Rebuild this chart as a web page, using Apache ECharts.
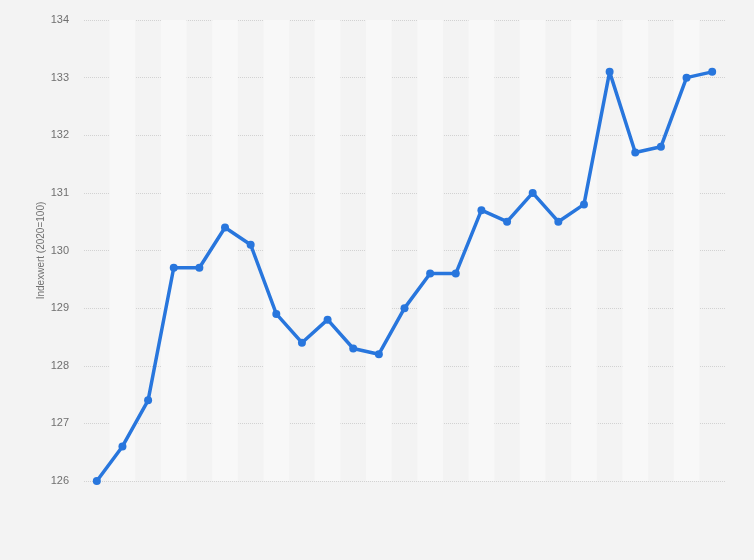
<!DOCTYPE html>
<html>
<head>
<meta charset="utf-8">
<script src="https://cdn.jsdelivr.net/npm/echarts@6/dist/echarts.min.js"></script>
<style>
    html, body { margin: 0; padding: 0; background: #f3f3f3; }
    #chart { width: 754px; height: 560px; }
</style>
</head>
<body>
<div id="chart"></div>
<script>
// Kategorien (keine Beschriftung sichtbar)
var categories = ['1', '2', '3', '4', '5', '6', '7', '8', '9', '10', '11', '12', '13',
    '14', '15', '16', '17', '18', '19', '20', '21', '22', '23', '24', '25'];
var indexValues = [126.0, 126.6, 127.4, 129.7, 129.7, 130.4, 130.1, 128.9, 128.4, 128.8,
    128.3, 128.2, 129.0, 129.6, 129.6, 130.7, 130.5, 131.0, 130.5, 130.8,
    133.1, 131.7, 131.8, 133.0, 133.1];
var yMin = 126, yMax = 134, yStep = 1;
var yName = 'Indexwert (2020=100)';

window.onload = function () {
    var myChart = echarts.init(document.getElementById('chart'));

    var option = {
        backgroundColor: '#f3f3f3',
        animation: false,
        grid: {
            left: 84,
            right: 29,
            top: 20,
            bottom: 79
        },
        xAxis: {
            type: 'category',
            data: categories,
            boundaryGap: true,
            axisLine: { show: false },
            axisTick: { show: false },
            axisLabel: { show: false },
            splitLine: { show: false },
            splitArea: {
                show: true,
                interval: 0,
                areaStyle: {
                    color: ['rgba(0,0,0,0)', '#f8f8f8']
                }
            }
        },
        yAxis: {
            type: 'value',
            min: yMin,
            max: yMax,
            interval: yStep,
            name: yName,
            nameLocation: 'middle',
            nameGap: 38,
            nameMoveOverlap: false,
            nameTextStyle: {
                color: '#707070',
                fontSize: 10,
                fontFamily: 'Liberation Sans, Arial, sans-serif'
            },
            axisLine: { show: false },
            axisTick: { show: false },
            axisLabel: {
                color: '#707070',
                fontSize: 11,
                margin: 15,
                fontFamily: 'Liberation Sans, Arial, sans-serif'
            },
            splitLine: {
                lineStyle: {
                    color: '#d2d2d2',
                    type: [1, 1],
                    width: 1
                }
            }
        },
        series: [{
            type: 'line',
            data: indexValues,
            symbol: 'circle',
            symbolSize: 8,
            lineStyle: {
                color: '#2876dd',
                width: 3.5
            },
            itemStyle: {
                color: '#2876dd'
            }
        }]
    };

    myChart.setOption(option);
};
</script>
</body>
</html>
